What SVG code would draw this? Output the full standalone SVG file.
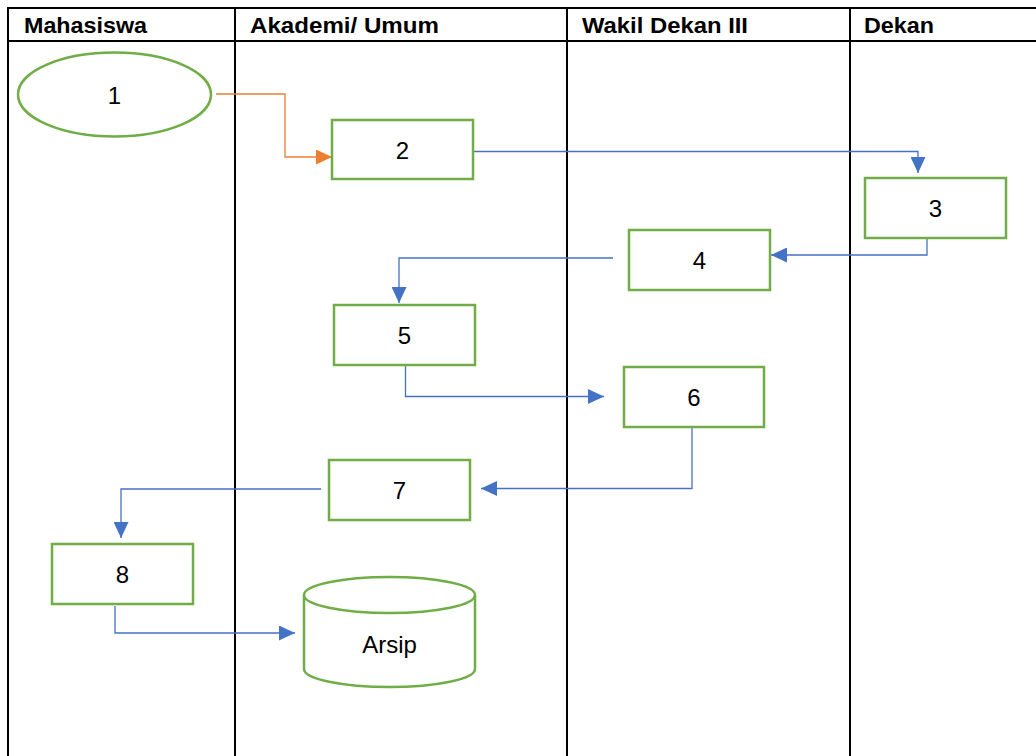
<svg xmlns="http://www.w3.org/2000/svg" width="1036" height="756" viewBox="0 0 1036 756">
<style>
.grid{stroke:#000;stroke-width:2;fill:none}
.hdr{font-family:"Liberation Sans",Arial,sans-serif;font-weight:bold;font-size:21.5px;fill:#000}
.node{fill:#fff;stroke:#70AD47;stroke-width:2.5}
.lbl{font-family:"Liberation Sans",Arial,sans-serif;font-size:24px;fill:#000;text-anchor:middle;dominant-baseline:central}
.blue{fill:none;stroke:#4472C4;stroke-width:1.3}
.orange{fill:none;stroke:#ED7D31;stroke-width:1.3}
</style>
<defs>
<marker id="ab" markerUnits="userSpaceOnUse" markerWidth="16" markerHeight="15" refX="16" refY="7.5" orient="auto"><path d="M0,0 L16,7.5 L0,15 z" fill="#4472C4"/></marker>
<marker id="ao" markerUnits="userSpaceOnUse" markerWidth="16" markerHeight="15" refX="16" refY="7.5" orient="auto"><path d="M0,0 L16,7.5 L0,15 z" fill="#ED7D31"/></marker>
</defs>
<rect width="1036" height="756" fill="#fff"/>
<g id="table">
<line class="grid" x1="8" y1="8" x2="1036" y2="8"/>
<line class="grid" x1="8" y1="41" x2="1036" y2="41"/>
<line class="grid" x1="8" y1="7" x2="8" y2="756"/>
<line class="grid" x1="235" y1="7" x2="235" y2="756"/>
<line class="grid" x1="567" y1="7" x2="567" y2="756"/>
<line class="grid" x1="850" y1="7" x2="850" y2="756"/>
<text class="hdr" x="24" y="33" textLength="123" lengthAdjust="spacingAndGlyphs">Mahasiswa</text>
<text class="hdr" x="250" y="33" textLength="189" lengthAdjust="spacingAndGlyphs">Akademi/ Umum</text>
<text class="hdr" x="582" y="33" textLength="166" lengthAdjust="spacingAndGlyphs">Wakil Dekan III</text>
<text class="hdr" x="864" y="33" textLength="70" lengthAdjust="spacingAndGlyphs">Dekan</text>
</g>
<g id="connectors">
<polyline class="orange" points="216,94 285,94 285,157 332,157" marker-end="url(#ao)"/>
<polyline class="blue" points="470,151.5 918,151.5 918,173" marker-end="url(#ab)"/>
<polyline class="blue" points="927,238 927,255 771,255" marker-end="url(#ab)"/>
<polyline class="blue" points="613,258 399,258 399,303" marker-end="url(#ab)"/>
<polyline class="blue" points="405.5,366 405.5,396.5 604,396.5" marker-end="url(#ab)"/>
<polyline class="blue" points="692,427 692,488.5 481,488.5" marker-end="url(#ab)"/>
<polyline class="blue" points="321,489 121,489 121,538" marker-end="url(#ab)"/>
<polyline class="blue" points="115,606 115,633 295,633" marker-end="url(#ab)"/>
</g>
<g id="node1"><ellipse class="node" cx="114.5" cy="94.5" rx="96.5" ry="42"/><text class="lbl" x="114.5" y="95">1</text></g>
<g id="node2"><rect class="node" x="332" y="120" width="141" height="59"/><text class="lbl" x="402.5" y="150">2</text></g>
<g id="node3"><rect class="node" x="865" y="178" width="141" height="60"/><text class="lbl" x="935.5" y="208">3</text></g>
<g id="node4"><rect class="node" x="629" y="230" width="141" height="60"/><text class="lbl" x="699.5" y="260">4</text></g>
<g id="node5"><rect class="node" x="334" y="305" width="141" height="60"/><text class="lbl" x="404.5" y="335">5</text></g>
<g id="node6"><rect class="node" x="624" y="367" width="140" height="60"/><text class="lbl" x="694" y="397">6</text></g>
<g id="node7"><rect class="node" x="329" y="460" width="141" height="60"/><text class="lbl" x="399.5" y="490">7</text></g>
<g id="node8"><rect class="node" x="52" y="544" width="141" height="60"/><text class="lbl" x="122.5" y="574">8</text></g>
<g id="arsip">
<path class="node" d="M304,595 L304,669 A85.5,18 0 0 0 475,669 L475,595 A85.5,18 0 0 0 304,595 Z"/>
<path class="node" d="M304,595 A85.5,18 0 0 0 475,595" fill="none"/>
<text class="lbl" x="389.5" y="644">Arsip</text>
</g>
</svg>
